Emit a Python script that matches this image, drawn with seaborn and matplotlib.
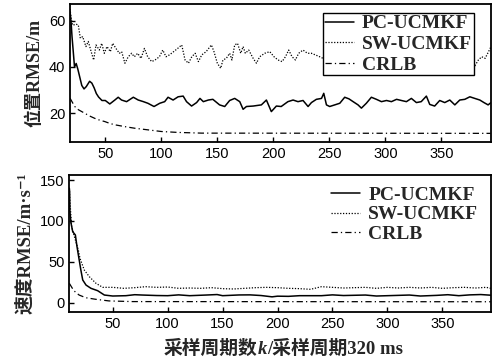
import matplotlib
matplotlib.use("Agg")
import matplotlib.pyplot as plt
from matplotlib.offsetbox import TextArea, HPacker, AnchoredOffsetbox
import seaborn as sns

# --- values ------------------------------------------------------------------
# top panel: position RMSE (m)
pos_k_pc = [18.5, 19.5, 20.3, 21.5, 22.5, 24, 25.5, 27, 29, 31, 33, 36, 38, 40, 42,
            44, 47, 50, 54, 58.5, 61.5, 64.5, 69, 75, 79.4, 84, 88, 93.5, 98.6, 103,
            106, 110.5, 115, 119.5, 122.5, 127, 131.5, 134.5, 137.5, 142, 146, 152,
            156.6, 161, 165.5, 170, 173, 176, 182, 189.3, 193.8, 198.2, 202.7, 207,
            213, 217.6, 222, 226.5, 231, 234, 238.4, 243, 245, 247.4, 250.3, 254.8,
            259.3, 263.7, 267.5, 271.2, 275.6, 278.6, 283, 287.5, 292, 296.5, 301,
            305.4, 310, 314.3, 318.8, 323.2, 327.7, 332, 336.6, 339.6, 344, 348.5,
            353, 357.5, 362, 366.4, 370.9, 375.4, 379.8, 384.3, 388, 391.7, 394]
pos_pc = [64, 59, 53, 46, 40, 41.5, 39, 36, 32, 30.5, 31.5, 33.8, 33, 31, 28.5,
          27, 25.5, 25.5, 24, 25.7, 26.9, 25.7, 25, 26.9, 25.7, 25, 24.3, 22.9, 24.3, 25,
          26.9, 25.7, 27.1, 27.4, 25, 23.1, 24.6, 26.4, 25, 25.7, 26, 23.6,
          22.9, 25.5, 26.4, 25, 21.7, 22.9, 23.1, 23.6, 25.7, 20.7, 23.1, 22.9,
          25, 25.7, 25, 25.5, 22.9, 24.6, 26, 26.4, 28.6, 23.6, 22.9, 23.6,
          24.3, 26.9, 26.2, 25, 23.6, 22.2, 24.3, 26.9, 26, 25, 25.5,
          25, 26, 25.5, 25, 26.4, 24.6, 25, 27.4, 23.8, 23.1, 25.5,
          24.6, 25.7, 23.6, 25.7, 26, 27.1, 26.4, 25.7, 24.6, 23.6, 24.5]

pos_k_sw = [18.5, 19.5, 20.9, 23.8, 25.9, 27.7, 29.8, 32.7, 34.8, 37.8, 39.6, 41.7,
            44.7, 46.8, 49.1, 51.5, 54.5, 56.6, 59.5, 62.5, 64.6, 67.5, 70.5, 73.5,
            75.9, 78.9, 81.9, 84.9, 87.8, 91.4, 94.4, 98.3, 101.3, 104.2, 107.2, 111,
            114.6, 118.2, 121.2, 124.2, 127.2, 130.2, 133.1, 136.1, 140, 144.7, 147,
            150, 153, 155, 158, 161, 163, 165.5, 168, 170.9, 173, 175, 178, 182,
            184.9, 187.8, 192.3, 196.8, 200.6, 204.2, 207.8, 210.8, 213.7, 216.7,
            219.7, 222.6, 226.5, 230.4, 234, 237.5, 241.4, 244.4, 247.4, 252, 258,
            264, 270, 276, 282, 288, 294, 300, 306, 312, 318, 324, 330, 336, 342,
            348, 354, 360, 366, 372, 377, 380, 383, 386, 389, 392, 394]
pos_sw = [65, 61, 58, 58.5, 58.1, 52.4, 53.1, 48.8, 51, 45.9, 43, 49.5,
          47.3, 50.2, 45.9, 48.8, 46.6, 50.2, 48, 45.9, 46.6, 41.6, 44.4, 45.9,
          44.4, 45.9, 43.7, 48, 44.4, 42.3, 43, 44.4, 47.3, 44.4, 45.2, 46.6,
          48, 49.5, 43, 41.6, 44.4, 45.9, 42.3, 45.2, 46.6, 49.5, 46.6,
          41.6, 39.4, 43, 43.7, 45.9, 43, 49.5, 50.2, 45.9, 48.8, 45.9, 47.3, 43.7,
          41.6, 44.4, 45.9, 46.6, 44.4, 43, 42.3, 44.4, 47.3, 44.4,
          43, 45.9, 47.3, 45.9, 45.9, 45.2, 44.4, 43.7, 43, 45, 46,
          44, 46.5, 45, 47, 44, 45.5, 46, 44.5, 47, 45, 44, 46, 45, 47,
          44.5, 46, 45, 43.5, 45, 43, 40.5, 43, 44.4, 43.7, 46.5, 48.5]

pos_k_crlb = [18.5, 22.7, 26, 31.6, 36, 40.5, 45, 49.5, 54, 58.5, 63, 67.5, 76.4,
              88.3, 100, 115, 136, 394]
pos_crlb = [26.5, 22.9, 21.5, 20, 18.8, 17.8, 17, 16.4, 15.6, 15, 14.6, 14.2, 13.5,
            12.8, 12.1, 11.7, 11.4, 11.3]

# bottom panel: velocity RMSE (m/s)
vel_k_pc = [10.5, 10.8, 11, 11.8, 13.6, 16, 17.5, 19, 21, 22.7, 25.7, 30.2, 36.3, 42.4,
            50, 62, 70, 77, 90, 100, 110, 120, 135, 145, 150, 165, 175, 185, 195,
            200, 210, 220, 240, 250, 260, 280, 290, 300, 320, 330, 345, 355, 365,
            375, 385, 394]
vel_pc = [140, 135.7, 113, 99, 86.8, 82.8, 68.5, 56.2, 40, 27.8, 21.6, 17.6, 14.7, 9.4,
          8.2, 8.6, 9.8, 9.4, 8.8, 8.6, 9.6, 8.6, 9.4, 10, 8.6, 9.5, 9.6, 8.8, 7.2,
          8, 7.8, 8.6, 8.6, 9.6, 8.8, 9.4, 8.2, 8.6, 9.4, 8.2, 9, 9.8, 8.6,
          9.6, 10, 9.2]

vel_k_sw = [10.5, 11, 12.6, 16, 18.7, 20.2, 24.1, 28.7, 34.8, 40.9, 50, 60, 70, 80,
            90, 100, 110, 120, 130, 140, 150, 160, 170, 180, 190, 200, 210, 220, 230,
            240, 250, 260, 270, 280, 290, 300, 310, 320, 330, 340, 350, 360, 370,
            380, 390, 394]
vel_sw = [140, 125, 92.9, 76.7, 64.4, 54.3, 40, 31.8, 23.7, 18.8, 18.8, 17.6, 18.4, 19.6,
          18.8, 19.2, 17.6, 18, 17.6, 18.4, 17.2, 16.8, 17.6, 18.4, 18.8, 18.4, 17.6,
          17.2, 16.4, 19.6, 18.8, 18, 18.4, 18.8, 17.6, 18.8, 18, 18.8, 18, 18.8,
          17.6, 18.4, 18.8, 18, 18.8, 17.6]

vel_k_crlb = [10.5, 14.6, 19.4, 25.5, 34.5, 46.6, 68, 394]
vel_crlb = [23.7, 14.7, 9.4, 6.1, 4.2, 2.2, 1.4, 1.2]

labels = ["PC-UCMKF", "SW-UCMKF", "CRLB"]
styles = ["-", (0, (1, 1.3)), (0, (5, 2.5, 1, 2.5))]

# --- style -------------------------------------------------------------------
sns.set_theme(style="ticks")
plt.rcParams.update({
    "font.family": ["Liberation Sans", "DejaVu Sans"],
    "axes.linewidth": 1.3,
    "axes.edgecolor": "black",
    "xtick.direction": "in",
    "ytick.direction": "in",
    "xtick.major.size": 3.5,
    "ytick.major.size": 3.5,
    "xtick.major.width": 1,
    "ytick.major.width": 1,
    "xtick.labelsize": 10.5,
    "ytick.labelsize": 10.5,
    "xtick.color": "black",
    "ytick.color": "black",
})
serif = ["Liberation Serif", "Noto Sans CJK SC", "DejaVu Sans"]

fig = plt.figure(figsize=(4.98, 3.62), dpi=100)
ax1 = fig.add_axes([0.1406, 0.6086, 0.8447, 0.3804])
ax2 = fig.add_axes([0.1392, 0.1373, 0.8461, 0.3801])

for ax, data in [
    (ax1, [(pos_k_pc, pos_pc), (pos_k_sw, pos_sw), (pos_k_crlb, pos_crlb)]),
    (ax2, [(vel_k_pc, vel_pc), (vel_k_sw, vel_sw), (vel_k_crlb, vel_crlb)]),
]:
    for (k, v), lab, ls in zip(data, labels, styles):
        sns.lineplot(x=k, y=v, ax=ax, color="black", linestyle=ls,
                     linewidth=1.1 if ls == "-" else 0.9,
                     label=lab, sort=False, estimator=None)

ax1.set_xlim(18.5, 394)
ax1.set_ylim(7.7, 67.2)
ax1.set_xticks([50, 100, 150, 200, 250, 300, 350])
ax1.set_yticks([20, 40, 60])

ax2.set_xlim(10.5, 394)
ax2.set_ylim(-11.7, 156.5)
ax2.set_xticks([50, 100, 150, 200, 250, 300, 350])
ax2.set_yticks([0, 50, 100, 150])

ax1.set_ylabel("位置RMSE/m", family=serif, weight="bold", fontsize=13, labelpad=4)
ax2.set_ylabel("速度RMSE/m·s⁻¹", family=serif, weight="bold", fontsize=13.5,
               labelpad=4)
ax1.set_xlabel("")
ax2.set_xlabel("")

# x label: CJK text with an italic k in the middle
xl_props = dict(family=serif, weight="bold", size=13.5)
xl_parts = [
    TextArea("采样周期数", textprops=xl_props),
    TextArea("k", textprops=dict(family="Liberation Serif", weight="bold",
                                  style="italic", size=13.5)),
    TextArea("/采样周期320 ms", textprops=xl_props),
]
xl_box = AnchoredOffsetbox(loc="center",
                           child=HPacker(children=xl_parts, align="baseline",
                                         pad=0, sep=0),
                           bbox_to_anchor=(0.569, 0.036),
                           bbox_transform=fig.transFigure,
                           frameon=False, pad=0, borderpad=0)
fig.add_artist(xl_box)

leg_font = {"family": "Liberation Serif", "weight": "bold", "size": 14}
leg1 = ax1.legend(loc="upper right", bbox_to_anchor=(0.96, 0.935), prop=leg_font,
                  frameon=True, fancybox=False, edgecolor="black", framealpha=1,
                  handlelength=1.5, handletextpad=0.4, labelspacing=0.15,
                  borderpad=0.1, borderaxespad=0)
leg1.get_frame().set_linewidth(1.0)
ax2.legend(loc="upper right", bbox_to_anchor=(0.975, 0.93), prop=leg_font,
           frameon=False, handlelength=1.5, handletextpad=0.4, labelspacing=0.1,
           borderpad=0.1, borderaxespad=0)

for ax in (ax1, ax2):
    ax.tick_params(top=False, right=False)

fig.savefig("out.png", dpi=100)
